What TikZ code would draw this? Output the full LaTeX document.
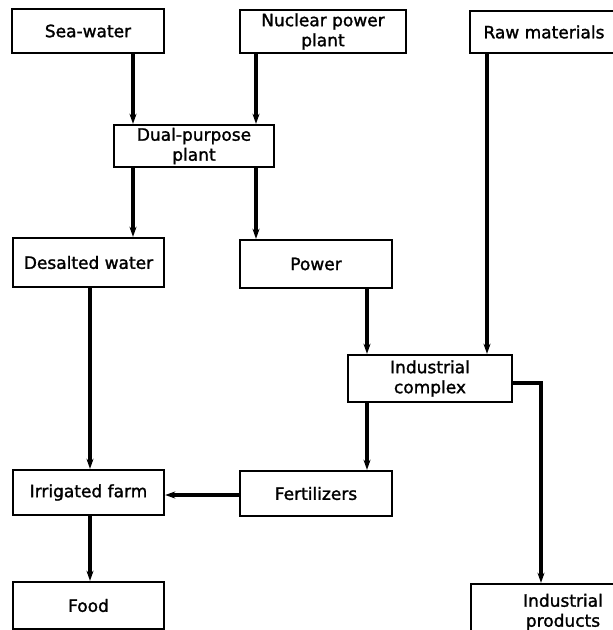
\documentclass[tikz,border=0pt]{standalone}
\usepackage{fontspec}
\setmainfont{DejaVu Sans}[FakeBold=1.5]
\usetikzlibrary{arrows.meta}
\begin{document}
\begin{tikzpicture}[x=1pt,y=-1pt,
  box/.style={draw,line width=2.4pt,inner sep=0pt,align=center,
    font=\fontsize{17}{20}\selectfont},
  arr/.style={line width=3.4pt,-{Stealth[length=10pt,width=7pt,inset=3pt]}}]
\useasboundingbox (0,0) rectangle (613,630);
\clip (0,0) rectangle (613,630);
\fill[white] (0,0) rectangle (613,630);
% boxes
\node[box,minimum width=152pt,minimum height=44pt] (sea) at (88,31) {Sea-water};
\node[box,minimum width=166pt,minimum height=43pt] (nuc) at (323,31.5) {Nuclear power\\plant};
\node[box,minimum width=148pt,minimum height=42pt] (raw) at (544,32) {Raw materials};
\node[box,minimum width=160pt,minimum height=42pt] (dual) at (194,146) {Dual-purpose\\plant};
\node[box,minimum width=151pt,minimum height=49pt] (desal) at (88.5,262.5) {Desalted water};
\node[box,minimum width=152pt,minimum height=48pt] (power) at (316,264) {Power};
\node[box,minimum width=164pt,minimum height=47pt] (ind) at (430,378.5) {Industrial\\complex};
\node[box,minimum width=152pt,minimum height=45pt] (fert) at (316,493.5) {Fertilizers};
\node[box,minimum width=151pt,minimum height=45pt] (irr) at (88.5,492.5) {Irrigated farm};
\node[box,minimum width=151pt,minimum height=47pt] (food) at (88.5,605.5) {Food};
\node[box,minimum width=184pt,minimum height=56pt] (prod) at (563,612) {Industrial\\products};
% x positions of connectors
\coordinate (xa) at (133,0);
\coordinate (xb) at (256,0);
\coordinate (xc) at (487,0);
\coordinate (xd) at (367,0);
\coordinate (xe) at (90,0);
\coordinate (xf) at (541,0);
\coordinate (yg) at (0,495);
\coordinate (yh) at (0,383);
% connectors
\draw[arr] (sea.south -| xa) -- (dual.north -| xa);
\draw[arr] (nuc.south -| xb) -- (dual.north -| xb);
\draw[arr] (dual.south -| xa) -- (desal.north -| xa);
\draw[arr] (dual.south -| xb) -- (power.north -| xb);
\draw[arr] (raw.south -| xc) -- (ind.north -| xc);
\draw[arr] (power.south -| xd) -- (ind.north -| xd);
\draw[arr] (desal.south -| xe) -- (irr.north -| xe);
\draw[arr] (ind.south -| xd) -- (fert.north -| xd);
\draw[arr] (fert.west |- yg) -- (irr.east |- yg);
\draw[arr] (irr.south -| xe) -- (food.north -| xe);
\draw[arr] (ind.east |- yh) -| (prod.north -| xf);
\end{tikzpicture}
\end{document}
